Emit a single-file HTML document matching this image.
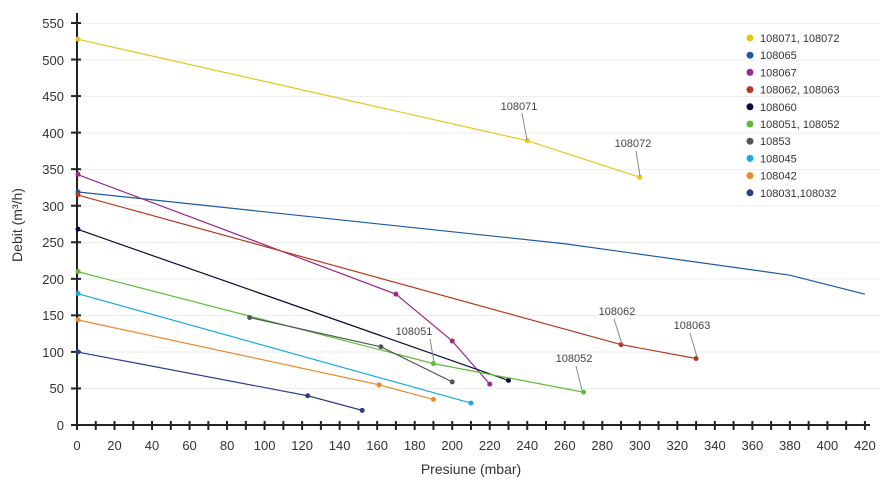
<!DOCTYPE html><html><head><style>body{margin:0;background:#fff}svg{display:block;font-family:"Liberation Sans",sans-serif}</style></head><body>
<svg width="888" height="489" viewBox="0 0 888 489">
<g stroke="#eeeeee" stroke-width="1">
<line x1="80" x2="880" y1="23.5" y2="23.5"/><line x1="80" x2="880" y1="60" y2="60"/><line x1="80" x2="880" y1="96.5" y2="96.5"/><line x1="80" x2="880" y1="133" y2="133"/><line x1="80" x2="880" y1="169.5" y2="169.5"/><line x1="80" x2="880" y1="206" y2="206"/><line x1="80" x2="880" y1="242.5" y2="242.5"/><line x1="80" x2="880" y1="279" y2="279"/><line x1="80" x2="880" y1="315.5" y2="315.5"/><line x1="80" x2="880" y1="352" y2="352"/><line x1="80" x2="880" y1="388.5" y2="388.5"/>
</g>
<g font-size="13" fill="#333" text-anchor="end">
<text x="64" y="430">0</text><text x="64" y="393">50</text><text x="64" y="357">100</text><text x="64" y="320">150</text><text x="64" y="284">200</text><text x="64" y="247">250</text><text x="64" y="211">300</text><text x="64" y="174">350</text><text x="64" y="138">400</text><text x="64" y="101">450</text><text x="64" y="65">500</text><text x="64" y="28">550</text>
</g>
<g font-size="13" fill="#333" text-anchor="middle" id="xl"></g>
<text x="471" y="474" font-size="14" fill="#333" text-anchor="middle">Presiune (mbar)</text>
<text transform="translate(22,225) rotate(-90)" font-size="14" fill="#333" text-anchor="middle">Debit (m³/h)</text>
<g id="ticks" stroke="#222" stroke-width="2"></g>
<line x1="77" y1="13" x2="77" y2="426" stroke="#222" stroke-width="2"/>
<line x1="76" y1="425" x2="870" y2="425" stroke="#222" stroke-width="2"/>
<g id="series" fill="none" stroke-width="1.2"></g>
<g font-size="11" fill="#444" text-anchor="middle">
<text x="519" y="110">108071</text><line x1="522" y1="113" x2="527" y2="140" stroke="#888"/>
<text x="633" y="147">108072</text><line x1="636" y1="151" x2="640" y2="176" stroke="#888"/>
<text x="617" y="315">108062</text><line x1="614" y1="319" x2="622" y2="344" stroke="#888"/>
<text x="692" y="329">108063</text><line x1="690" y1="333" x2="697" y2="357" stroke="#888"/>
<text x="414" y="335">108051</text><line x1="430" y1="339" x2="434" y2="362" stroke="#888"/>
<text x="574" y="362">108052</text><line x1="576" y1="366" x2="582" y2="390" stroke="#888"/>
</g>
<g font-size="11" fill="#333" id="leg"></g>
</svg>
<script>
const X=v=>77+v*1.876,Y=v=>425-v*0.7309,ns="http://www.w3.org/2000/svg";
function el(p,t,a,txt){const e=document.createElementNS(ns,t);for(const k in a)e.setAttribute(k,a[k]);if(txt)e.textContent=txt;document.getElementById(p).appendChild(e);}
for(let v=0;v<=420;v+=10){el('ticks','line',{x1:X(v),x2:X(v),y1:421,y2:430});if(v%20==0)el('xl','text',{x:X(v),y:450},String(v));}
for(let v=0;v<=550;v+=50)el('ticks','line',{x1:71,x2:81,y1:Y(v),y2:Y(v)});
const S=[["#e6c619",[[0,528],[240,389],[300,339]],"108071, 108072"],
["#1a5aa0",[[0,319],[260,248],[380,205],[420,179]],"108065"],
["#9b2a8b",[[0,343],[170,179],[200,115],[220,56]],"108067"],
["#b53a1f",[[0,315],[290,110],[330,91]],"108062, 108063"],
["#0a0a3a",[[0,268],[230,61]],"108060"],
["#5cbd3b",[[0,210],[190,84],[270,45]],"108051, 108052"],
["#555555",[[92,147],[162,107],[200,59]],"10853"],
["#1ba9e0",[[0,180],[210,30]],"108045"],
["#ea8a2e",[[0,144],[161,55],[190,35]],"108042"],
["#2a3e8c",[[0,100],[123,40],[152,20]],"108031,108032"]];
S.forEach((s,i)=>{el('series','polyline',{points:s[1].map(p=>X(p[0])+','+Y(p[1])).join(' '),stroke:s[0]});
s[1].forEach((p,j)=>{if(!(s[0]=="#1a5aa0"&&j>0))el('series','circle',{cx:X(p[0])+(p[0]==0?1:0),cy:Y(p[1]),r:2.5,fill:s[0],stroke:'none'});});
el('leg','circle',{cx:750,cy:38+i*17.2,r:3.5,fill:s[0]});el('leg','text',{x:760,y:42+i*17.2},s[2]);});
</script>
</body></html>
